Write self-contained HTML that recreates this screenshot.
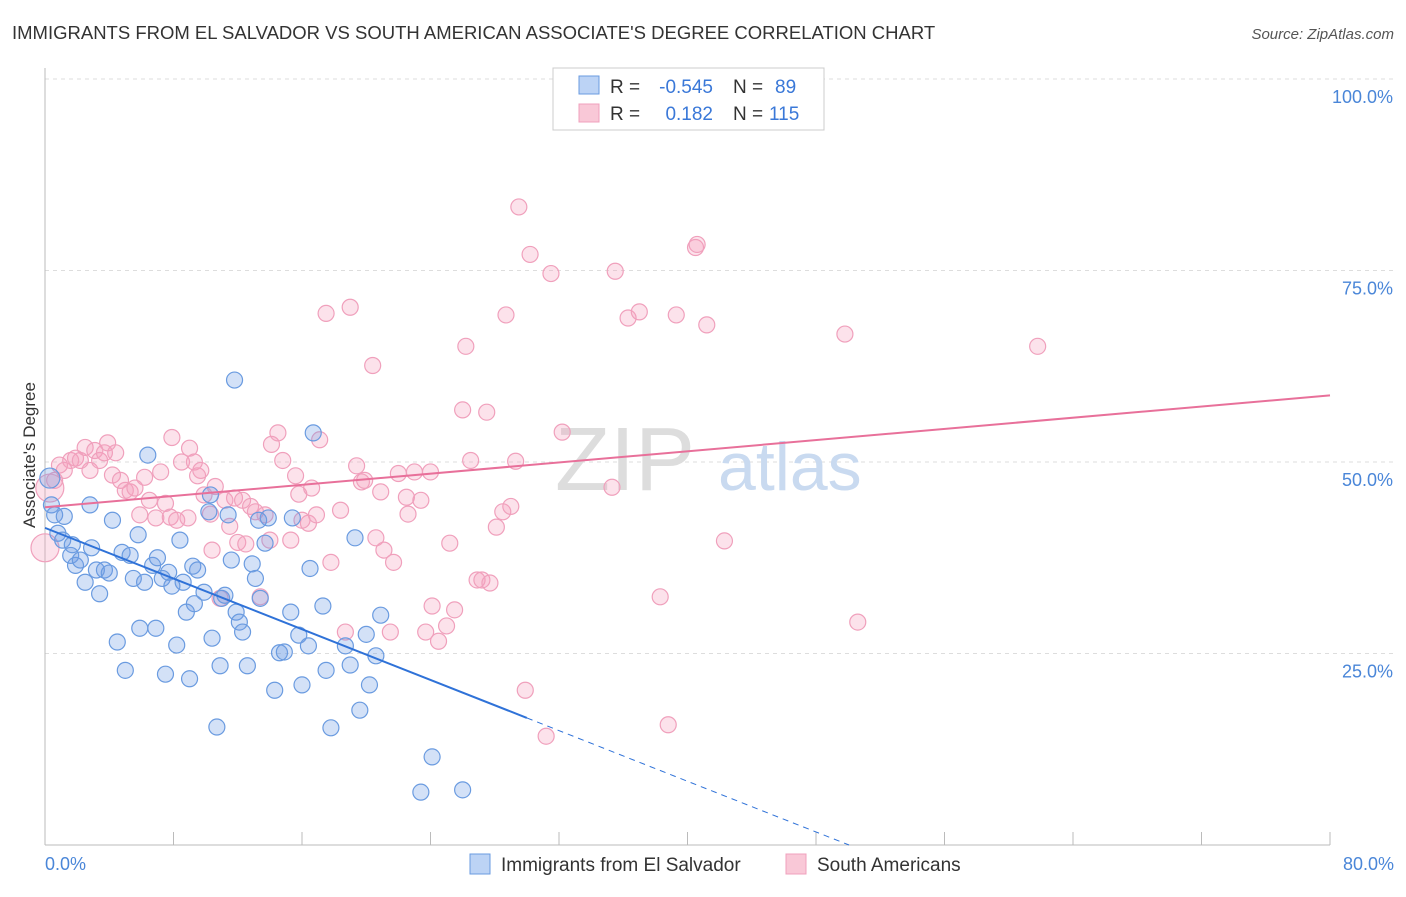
<!DOCTYPE html>
<html><head><meta charset="utf-8">
<style>
body{margin:0;background:#fff;font-family:"Liberation Sans",sans-serif;}
svg text{font-family:"Liberation Sans",sans-serif;}
</style></head>
<body>
<svg width="1406" height="892" xmlns="http://www.w3.org/2000/svg">
<text x="12" y="39" font-size="18.5" fill="#333">IMMIGRANTS FROM EL SALVADOR VS SOUTH AMERICAN ASSOCIATE'S DEGREE CORRELATION CHART</text>
<text x="1394" y="39" font-size="15" fill="#555" font-style="italic" text-anchor="end">Source: ZipAtlas.com</text>
<g id="grid"></g>
<text x="555" y="490" font-size="90" fill="#ddd" font-family="Liberation Serif">ZIP</text>
<text x="718" y="490" font-size="68" fill="#c9daf0">atlas</text>
<g id="marks"></g>
<text x="35" y="455" font-size="17" fill="#333" text-anchor="middle" transform="rotate(-90 35 455)">Associate's Degree</text>
<g>
<rect x="553" y="68" width="271" height="62" fill="#fff" stroke="#ccc"/>
<rect x="579" y="76" width="20" height="18" fill="#bcd3f5" stroke="#6a9be0"/>
<rect x="579" y="104" width="20" height="18" fill="#f9c8d7" stroke="#f0a0bc"/>
<text y="93" font-size="19" fill="#333"><tspan x="610">R =</tspan><tspan x="713" text-anchor="end" fill="#3a78d8">-0.545</tspan><tspan x="733">N =</tspan><tspan x="775" fill="#3a78d8">89</tspan></text>
<text y="120" font-size="19" fill="#333"><tspan x="610">R =</tspan><tspan x="713" text-anchor="end" fill="#3a78d8">0.182</tspan><tspan x="733">N =</tspan><tspan x="769" fill="#3a78d8">115</tspan></text>
</g>
<g>
<rect x="470" y="854" width="20" height="20" fill="#bcd3f5" stroke="#6a9be0"/>
<text x="501" y="871" font-size="19" fill="#333">Immigrants from El Salvador</text>
<rect x="786" y="854" width="20" height="20" fill="#f9c8d7" stroke="#f0a0bc"/>
<text x="817" y="871" font-size="19" fill="#333">South Americans</text>
</g>
</svg>
<script>
const blueX=[0.3,0.4,0.6,0.8,1.1,1.2,1.6,1.7,1.9,2.2,2.5,2.8,2.9,3.2,3.4,3.7,4.0,4.2,4.5,4.8,5.0,5.3,5.5,5.8,5.9,6.2,6.4,6.7,6.9,7.0,7.3,7.5,7.7,7.9,8.2,8.4,8.6,8.8,9.0,9.2,9.3,9.5,9.9,10.2,10.3,10.4,10.7,10.9,11.0,11.2,11.4,11.6,11.8,11.9,12.1,12.3,12.6,12.9,13.1,13.3,13.4,13.7,13.9,14.3,14.6,14.9,15.3,15.4,15.8,16.0,16.4,16.5,16.7,17.3,17.5,17.8,18.7,19.0,19.3,19.6,20.0,20.2,20.6,20.9,24.1,23.4,26.0];
const blueY=[47.9,44.4,43.1,40.7,39.8,42.9,37.8,39.2,36.5,37.2,34.3,44.4,38.8,35.9,32.8,35.9,35.5,42.4,26.5,38.2,22.8,37.8,34.8,40.5,28.3,34.3,50.9,36.5,28.3,37.5,34.8,22.3,35.6,33.8,26.1,39.8,34.3,30.4,21.7,36.4,31.5,35.9,33.0,43.5,45.7,27.0,15.4,23.4,32.2,32.6,43.1,37.2,60.7,30.4,29.1,27.8,23.4,36.7,34.8,42.4,32.2,39.4,42.7,20.2,25.1,25.2,30.4,42.7,27.4,20.9,26.0,36.1,53.8,31.2,22.8,15.3,26.0,23.5,40.1,17.6,27.5,20.9,24.7,30.0,11.5,6.9,7.2];
const pinkX=[0.0,0.3,0.6,0.9,1.2,1.6,1.9,2.2,2.5,2.8,3.1,3.4,3.7,3.9,4.2,4.4,4.7,5.0,5.3,5.6,5.9,6.2,6.5,6.9,7.2,7.5,7.8,7.9,8.2,8.5,8.9,9.0,9.3,9.5,9.7,9.9,10.3,10.4,10.6,10.9,11.2,11.5,11.8,12.0,12.3,12.5,12.8,13.1,13.4,13.7,14.0,14.1,14.5,14.8,15.3,15.6,15.8,16.0,16.4,16.6,16.9,17.1,17.5,17.8,18.4,18.7,19.0,19.4,19.7,19.9,20.4,20.6,20.9,21.1,21.5,21.7,22.0,22.5,22.6,23.0,23.4,23.7,24.0,24.1,24.5,25.0,25.2,25.5,26.0,26.2,26.5,26.9,27.2,27.5,27.7,28.1,28.5,28.7,29.0,29.3,29.5,29.9,30.2,31.2,31.5,32.2,35.3,35.5,36.3,37.0,38.3,38.8,39.3,40.5,40.6,41.2,42.3,49.8,50.6,61.8];
const pinkY=[38.8,46.6,47.6,49.6,48.9,50.2,50.5,50.2,51.9,48.9,51.5,50.2,51.2,52.5,48.3,51.2,47.6,46.3,46.1,46.6,43.1,48.0,45.0,42.7,48.7,44.6,42.8,53.2,42.4,50.0,42.7,51.8,50.0,48.2,48.9,45.7,43.2,38.5,46.8,32.2,45.0,41.6,45.3,39.5,45.0,39.3,44.2,43.5,32.4,43.1,39.8,52.3,53.8,50.2,39.8,48.2,45.8,42.4,42.0,46.6,43.1,52.9,69.4,36.9,43.7,27.8,70.2,49.5,47.4,47.6,62.6,40.1,46.1,38.5,27.8,36.9,48.5,45.4,43.2,48.7,45.0,27.8,48.7,31.2,26.6,28.6,39.4,30.7,56.8,65.1,50.2,34.6,34.6,56.5,34.2,41.5,43.5,69.2,44.2,50.1,83.3,20.2,77.1,14.2,74.6,53.9,46.7,74.9,68.8,69.6,32.4,15.7,69.2,78.0,78.4,67.9,39.7,66.7,29.1,65.1];
const yTicks=[25,50,75,100];
const xTicks=[0,8,16,24,32,40,48,56,64,72,80];
const blueTrend=[41.4,-0.827];
const pinkTrend=[44.1,0.1825];

const X=v=>45+v/80*1285;
const Y=v=>845-v/100*766;
const NS='http://www.w3.org/2000/svg';
function mk(tag,attrs,parent){const e=document.createElementNS(NS,tag);for(const k in attrs)e.setAttribute(k,attrs[k]);parent.appendChild(e);return e;}
const gridG=document.getElementById('grid');
const marksG=document.getElementById('marks');
yTicks.forEach(t=>{
  const l=mk('line',{x1:45,x2:1394,y1:Y(t),y2:Y(t),stroke:'#ddd','stroke-dasharray':'4,4'},gridG);
  
  
  const tx=mk('text',{x:1393,y:Y(t)+24,'font-size':18,fill:'#4a86d8','text-anchor':'end'},gridG);
  tx.textContent=t.toFixed(1)+'%';
  
  
});
const yAxis=mk('line',{x1:45,x2:45,y1:68,y2:845,stroke:'#bbb'},gridG);


const xAxis=mk('line',{x1:45,x2:1330,y1:845,y2:845,stroke:'#bbb'},gridG);


xTicks.forEach(t=>{
  const l=mk('line',{x1:X(t),x2:X(t),y1:832,y2:845,stroke:'#bbb'},gridG);
  
  
});
const xl0=mk('text',{x:45,y:870,'font-size':18,fill:'#4a86d8'},gridG);xl0.textContent='0.0%';


const xl1=mk('text',{x:1394,y:870,'font-size':18,fill:'#4a86d8','text-anchor':'end'},gridG);xl1.textContent='80.0%';



pinkX.forEach((v,i)=>{
  const r=i<2?14:8;
  const c=mk('circle',{cx:X(v),cy:Y(pinkY[i]),r:r,fill:'rgba(244,160,190,0.3)',stroke:'#f0a0bc','stroke-width':1.2},marksG);
  
  
});
blueX.forEach((v,i)=>{
  const r=i<1?10:8;
  const c=mk('circle',{cx:X(v),cy:Y(blueY[i]),r:r,fill:'rgba(110,155,230,0.3)',stroke:'#6a9be0','stroke-width':1.2},marksG);
  
  
});
const bEnd=30, bZero=-blueTrend[0]/blueTrend[1];
const bl=mk('line',{x1:X(0),y1:Y(blueTrend[0]),x2:X(bEnd),y2:Y(blueTrend[0]+blueTrend[1]*bEnd),stroke:'#2f72d8','stroke-width':2},marksG);


const bd=mk('line',{x1:X(bEnd),y1:Y(blueTrend[0]+blueTrend[1]*bEnd),x2:X(bZero),y2:Y(0),stroke:'#2f72d8','stroke-width':1,'stroke-dasharray':'6,5'},marksG);


const pl=mk('line',{x1:X(0),y1:Y(pinkTrend[0]),x2:X(80),y2:Y(pinkTrend[0]+pinkTrend[1]*80),stroke:'#e8709a','stroke-width':2},marksG);


</script>
</body></html>
